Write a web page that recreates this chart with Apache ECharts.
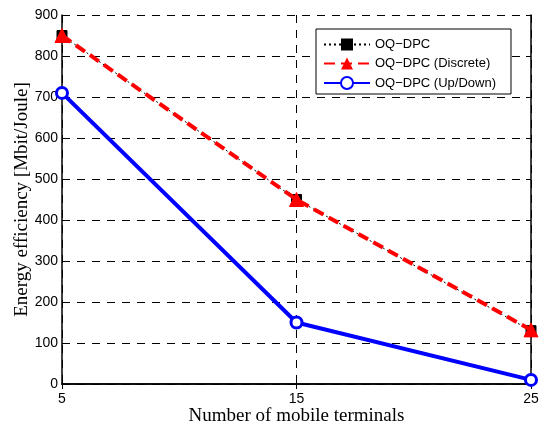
<!DOCTYPE html>
<html><head><meta charset="utf-8">
<script src="https://cdn.jsdelivr.net/npm/echarts@6/dist/echarts.min.js"></script>
<style>html,body{margin:0;padding:0;background:#fff}#c{width:541px;height:426px}</style>
</head><body><div id="c"></div>
<script>
var categories = ['5', '15', '25'];
var oqdpc = [850, 450, 130];
var oqdpcDiscrete = [850, 450, 132];
var oqdpcUpDown = [710, 150, 10];
var yTicks = [0, 100, 200, 300, 400, 500, 600, 700, 800, 900];

var chart = echarts.init(document.getElementById('c'), null, {renderer: 'canvas'});
var tickFont = {fontFamily: 'Liberation Sans, Arial, sans-serif', fontSize: 14, color: '#000'};
var titleFont = {fontFamily: 'Liberation Serif, Times New Roman, serif', fontSize: 19, color: '#000'};
chart.setOption({
  animation: false,
  grid: {left: 62, right: 10, top: 15, bottom: 42, containLabel: false, outerBoundsMode: 'none'},
  legend: {
    orient: 'vertical', left: 316, top: 29,
    backgroundColor: '#fff', borderColor: '#000', borderWidth: 1,
    padding: [9, 15, 4, 7], itemWidth: 46, itemHeight: 15, itemGap: 6,
    textStyle: {fontFamily: 'Liberation Sans, Arial, sans-serif', fontSize: 13, color: '#000'},
    data: ['OQ\u2212DPC', 'OQ\u2212DPC (Discrete)', 'OQ\u2212DPC (Up/Down)']
  },
  xAxis: [{
    type: 'category', data: categories, boundaryGap: false,
    name: 'Number of mobile terminals', nameLocation: 'middle', nameGap: 23, nameMoveOverlap: false,
    nameTextStyle: titleFont,
    axisLine: {lineStyle: {color: '#000', width: 1.5}},
    axisTick: {inside: true, length: 5, lineStyle: {color: '#000'}, alignWithLabel: true},
    axisLabel: Object.assign({margin: 8}, tickFont),
    splitLine: {show: true, lineStyle: {color: '#000', type: [8, 7], width: 1}}
  }, {
    type: 'category', data: categories, boundaryGap: false, position: 'top',
    axisLine: {lineStyle: {color: '#000', width: 1.5}},
    axisTick: {inside: true, length: 5, lineStyle: {color: '#000'}},
    axisLabel: {show: false}, splitLine: {show: false}
  }],
  yAxis: [{
    type: 'value', min: 0, max: 900, interval: 100,
    name: 'Energy efficiency [Mbit/Joule]', nameLocation: 'middle', nameGap: 30, nameMoveOverlap: false,
    nameTextStyle: titleFont,
    axisLine: {show: true, lineStyle: {color: '#000', width: 1.5}},
    axisTick: {show: true, inside: true, length: 5, lineStyle: {color: '#000'}},
    axisLabel: Object.assign({margin: 4, formatter: function (v) { return yTicks.indexOf(v) >= 0 ? String(v) : ''; }}, tickFont),
    splitLine: {show: true, lineStyle: {color: '#000', type: [8, 7], width: 1}}
  }, {
    type: 'value', min: 0, max: 900, interval: 100, position: 'right',
    axisLine: {show: true, lineStyle: {color: '#000', width: 1.5}},
    axisTick: {show: true, inside: true, length: 5, lineStyle: {color: '#000'}},
    axisLabel: {show: false}, splitLine: {show: false}
  }],
  series: [{
    name: 'OQ\u2212DPC', type: 'line', data: oqdpc,
    symbol: 'rect', symbolSize: 10, z: 2,
    lineStyle: {color: '#000', width: 1, type: [2, 3]},
    itemStyle: {color: '#000', borderColor: '#000'}
  }, {
    name: 'OQ\u2212DPC (Discrete)', type: 'line', data: oqdpcDiscrete,
    symbol: 'triangle', symbolSize: 14, z: 3,
    lineStyle: {color: '#f00', width: 4, type: [11, 6]},
    itemStyle: {color: '#f00', borderColor: '#f00'}
  }, {
    name: 'OQ\u2212DPC (Up/Down)', type: 'line', data: oqdpcUpDown,
    symbol: 'circle', symbolSize: 11, showAllSymbol: true, z: 4,
    lineStyle: {color: '#00f', width: 4},
    itemStyle: {color: '#fff', borderColor: '#00f', borderWidth: 3}
  }]
});
</script></body></html>
